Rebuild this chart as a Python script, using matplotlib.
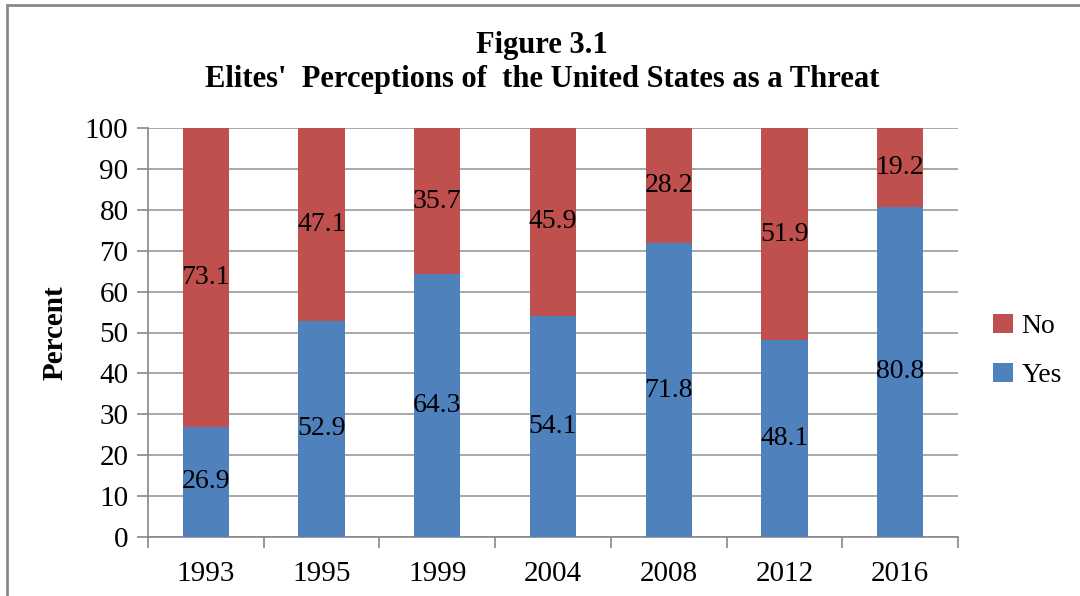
import matplotlib
matplotlib.use('agg')
import matplotlib.pyplot as plt
import numpy as np
from matplotlib.patches import Rectangle

years = ['1993', '1995', '1999', '2004', '2008', '2012', '2016']
yes_vals = [26.9, 52.9, 64.3, 54.1, 71.8, 48.1, 80.8]
no_vals = [73.1, 47.1, 35.7, 45.9, 28.2, 51.9, 19.2]

blue = '#4F81BD'
red = '#C0504D'
plt.rcParams['font.family'] = ['Liberation Serif', 'DejaVu Serif']

fig = plt.figure(figsize=(10.8, 5.96), dpi=100)
ax = fig.add_axes([148 / 1080, 1 - 537 / 596, (958 - 148) / 1080, (537 - 128) / 596])

x = np.arange(len(years))
b1 = ax.bar(x, yes_vals, width=0.4, color=blue, label='Yes', zorder=3)
b2 = ax.bar(x, no_vals, width=0.4, bottom=yes_vals, color=red, label='No', zorder=3)

for i in range(len(years)):
    ax.text(x[i], yes_vals[i] / 2, '%.1f' % yes_vals[i], ha='center', va='center',
            fontsize=20, zorder=4)
    ax.text(x[i], yes_vals[i] + no_vals[i] / 2, '%.1f' % no_vals[i], ha='center',
            va='center', fontsize=20, zorder=4)

ax.set_xlim(-0.5, len(years) - 0.5)
ax.set_ylim(0, 100)
ax.set_yticks(range(0, 101, 10))
ax.tick_params(axis='y', labelsize=21, length=8, color='#888888', width=1.2, pad=6)
ax.set_xticks(x)
ax.set_xticklabels(years)
ax.tick_params(axis='x', labelsize=21, length=0, pad=17)
ax.set_xticks(np.arange(-0.5, len(years)), minor=True)
ax.tick_params(axis='x', which='minor', length=8, color='#888888', width=1.2)
ax.yaxis.grid(True, color='#999999', linewidth=1.2, zorder=0)
for s in ['top', 'right']:
    ax.spines[s].set_visible(False)
for s in ['left', 'bottom']:
    ax.spines[s].set_color('#888888')
    ax.spines[s].set_linewidth(1.2)

ax.set_ylabel('Percent', fontsize=21, fontweight='bold', labelpad=12)

fig.text(0.502, 1 - 45 / 596, 'Figure 3.1', ha='center', va='center',
         fontsize=22, fontweight='bold')
fig.text(0.502, 1 - 80 / 596, "Elites'  Perceptions of  the United States as a Threat",
         ha='center', va='center', fontsize=22, fontweight='bold')

leg = ax.legend(handles=[b2, b1], labels=['No', 'Yes'], loc='center left',
                bbox_to_anchor=(1.03, 0.455), frameon=False, fontsize=20,
                handlelength=0.7, handleheight=0.7, handletextpad=0.3,
                labelspacing=0.85, borderaxespad=0)

fig.add_artist(Rectangle((7 / 1080, -0.05), 1.2, 1 - 5 / 596 + 0.05,
                         transform=fig.transFigure, fill=False,
                         edgecolor='#888888', linewidth=2))

plt.savefig('out.png')
